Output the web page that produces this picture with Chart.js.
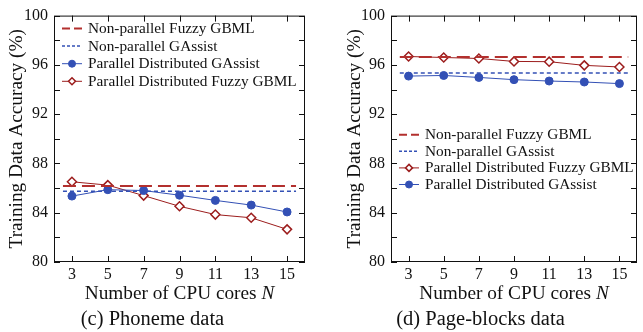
<!DOCTYPE html>
<html>
<head>
<meta charset="utf-8">
<script src="https://cdn.jsdelivr.net/npm/chart.js@4/dist/chart.umd.min.js"></script>
<style>
  html, body { margin: 0; padding: 0; background: #fff; }
  #wrap { position: relative; width: 643px; height: 332px; overflow: hidden; }
  canvas { position: absolute; top: 0; }
  #c1 { left: 0; }
  #c2 { left: 321px; }
</style>
</head>
<body>
<div id="wrap">
  <canvas id="c1" width="321" height="332"></canvas>
  <canvas id="c2" width="322" height="332"></canvas>
</div>
<script>
// ---- data ----
const xCores = [3, 5, 7, 9, 11, 13, 15];
const xTicks = [3, 5, 7, 9, 11, 13, 15];
const yTicks = [80, 84, 88, 92, 96, 100];
const yMinorTicks = [80, 82, 84, 86, 88, 90, 92, 94, 96, 98, 100];
const refSpan = [2.5, 15.5];

const phonemeGAssist = [85.35, 85.87, 85.80, 85.42, 85.00, 84.62, 84.06];
const phonemeFuzzy   = [86.51, 86.24, 85.39, 84.52, 83.85, 83.59, 82.65];
const phonemeNPFuzzy = 86.16;
const phonemeNPGAssist = 85.74;

const pageGAssist = [95.09, 95.14, 94.98, 94.80, 94.69, 94.61, 94.48];
const pageFuzzy   = [96.68, 96.60, 96.52, 96.28, 96.26, 95.96, 95.83];
const pageNPFuzzy = 96.63;
const pageNPGAssist = 95.35;

const labelNPFuzzy = 'Non-parallel Fuzzy GBML';
const labelNPGAssist = 'Non-parallel GAssist';
const labelPGAssist = 'Parallel Distributed GAssist';
const labelPFuzzy = 'Parallel Distributed Fuzzy GBML';
const xTitleMain = 'Number of CPU cores ';
const xTitleVar = 'N';
const yTitle = 'Training Data Accuracy (%)';

// ---- styles ----
const FONT = "'Liberation Serif', 'DejaVu Serif', serif";
const RED_DASH = '#b3302e';
const RED = '#9c1d1d';
const BLUE = '#3350b5';

function pts(xs, ys) { return xs.map((x, i) => ({ x: x, y: ys[i] })); }
function refLine(v) { return refSpan.map(x => ({ x: x, y: v })); }

function makeDatasets(npF, npG, pG, pF) {
  return {
    npFuzzy: { label: labelNPFuzzy, data: refLine(npF), borderColor: RED_DASH, borderWidth: 2, borderDash: [13, 6], pointRadius: 0, fill: false },
    npGAssist: { label: labelNPGAssist, data: refLine(npG), borderColor: BLUE, borderWidth: 1.5, borderDash: [4, 3], pointRadius: 0, fill: false },
    pGAssist: { label: labelPGAssist, data: pts(xCores, pG), borderColor: BLUE, backgroundColor: BLUE, borderWidth: 1, pointStyle: 'circle', pointRadius: 4, pointBorderWidth: 1, pointBackgroundColor: BLUE, pointBorderColor: BLUE, fill: false },
    pFuzzy: { label: labelPFuzzy, data: pts(xCores, pF), borderColor: RED, backgroundColor: '#fff', borderWidth: 1, pointStyle: 'rectRot', pointRadius: 4.5, pointBorderWidth: 1.5, pointBackgroundColor: '#fff', pointBorderColor: RED, fill: false }
  };
}

// frame + inward tick marks + x title with italic N
const framePlugin = {
  id: 'frame',
  afterDatasetsDraw(chart) {
    const { ctx, chartArea: a, scales } = chart;
    ctx.save();
    ctx.strokeStyle = '#111';
    ctx.lineWidth = 1;
    ctx.strokeRect(a.left + 0.5, a.top + 0.5, a.right - a.left - 1, a.bottom - a.top - 1);
    ctx.beginPath();
    const L = 6;
    xTicks.forEach(v => {
      const px = Math.round(scales.x.getPixelForValue(v)) + 0.5;
      ctx.moveTo(px, a.bottom); ctx.lineTo(px, a.bottom - L);
      ctx.moveTo(px, a.top); ctx.lineTo(px, a.top + L);
    });
    yMinorTicks.forEach(v => {
      const py = Math.round(scales.y.getPixelForValue(v)) + 0.5;
      ctx.moveTo(a.left, py); ctx.lineTo(a.left + L, py);
      ctx.moveTo(a.right, py); ctx.lineTo(a.right - L, py);
    });
    ctx.stroke();

    // x-axis title, "N" in italics
    const fMain = '19.3px ' + FONT, fVar = 'italic 19.3px ' + FONT;
    ctx.font = fMain; const w1 = ctx.measureText(xTitleMain).width;
    ctx.font = fVar;  const w2 = ctx.measureText(xTitleVar).width;
    const cx = (a.left + a.right) / 2;
    const ty = scales.x.bottom - 13.5;
    const x0 = cx - (w1 + w2) / 2;
    ctx.fillStyle = '#111';
    ctx.textBaseline = 'middle';
    ctx.textAlign = 'left';
    ctx.font = fMain; ctx.fillText(xTitleMain, x0, ty);
    ctx.font = fVar;  ctx.fillText(xTitleVar, x0 + w1, ty);
    ctx.restore();
  }
};

// in-plot legend
const legendPlugin = {
  id: 'inLegend',
  afterDraw(chart, args, opts) {
    const { ctx, chartArea: a } = chart;
    ctx.save();
    ctx.font = '15.3px ' + FONT;
    ctx.textBaseline = 'middle';
    ctx.textAlign = 'left';
    opts.order.forEach((idx, i) => {
      const ds = chart.data.datasets[idx];
      const y = opts.top + i * opts.step;
      const x0 = a.left + 8, x1 = a.left + 28;
      ctx.save();
      ctx.strokeStyle = ds.borderColor;
      ctx.lineWidth = ds.borderWidth;
      ctx.setLineDash(ds.pointRadius > 0 ? [] : (ds.borderWidth >= 2 ? [8, 4] : [3, 2]));
      ctx.beginPath(); ctx.moveTo(x0, y); ctx.lineTo(x1, y); ctx.stroke();
      ctx.setLineDash([]);
      if (ds.pointRadius > 0) {
        const cx = (x0 + x1) / 2, r = 3.5;
        ctx.lineWidth = ds.pointBorderWidth;
        ctx.strokeStyle = ds.pointBorderColor;
        ctx.fillStyle = ds.pointBackgroundColor;
        ctx.beginPath();
        if (ds.pointStyle === 'circle') {
          ctx.arc(cx, y, r, 0, Math.PI * 2);
        } else {
          ctx.moveTo(cx, y - r); ctx.lineTo(cx + r, y); ctx.lineTo(cx, y + r); ctx.lineTo(cx - r, y); ctx.closePath();
        }
        ctx.fill(); ctx.stroke();
      }
      ctx.restore();
      ctx.fillStyle = '#111';
      ctx.fillText(ds.label, a.left + 34, y + 0.5);
    });
    ctx.restore();
  }
};

function makeChart(id, cfg) {
  const d = cfg.datasets;
  return new Chart(document.getElementById(id), {
    type: 'line',
    data: { datasets: [d.npFuzzy, d.npGAssist, d.pGAssist, d.pFuzzy] },
    plugins: [framePlugin, legendPlugin],
    options: {
      responsive: false,
      animation: false,
      devicePixelRatio: 1,
      layout: { padding: { top: 11, right: cfg.padRight, bottom: 0, left: 0 } },
      elements: { line: { tension: 0 } },
      plugins: {
        legend: { display: false },
        tooltip: { enabled: false },
        title: {
          display: true, position: 'bottom', text: cfg.caption, color: '#111',
          font: { family: FONT, size: 20.5, weight: 'normal' }, padding: { top: 0, bottom: 0 }
        },
        inLegend: { order: cfg.legendOrder, top: cfg.legendTop, step: cfg.legendStep }
      },
      scales: {
        x: {
          type: 'linear', min: 2, max: 16,
          afterBuildTicks: s => { s.ticks = xTicks.map(v => ({ value: v })); },
          afterFit: s => { s.height = 45.4; },
          grid: { display: false, drawTicks: false },
          border: { display: false },
          ticks: { color: '#111', font: { family: FONT, size: 16 }, padding: 3.5, maxRotation: 0, autoSkip: false },
          title: { display: false }
        },
        y: {
          type: 'linear', min: 80, max: 100,
          afterBuildTicks: s => { s.ticks = yTicks.map(v => ({ value: v })); },
          afterFit: s => { s.width = cfg.yWidth; },
          grid: { display: false, drawTicks: false },
          border: { display: false },
          ticks: { color: '#111', font: { family: FONT, size: 16 }, padding: 6 },
          title: {
            display: true, text: yTitle, color: '#111',
            font: { family: FONT, size: 19.3 }, padding: { top: cfg.yTitlePad, bottom: 0 }
          }
        }
      }
    }
  });
}

makeChart('c1', {
  datasets: makeDatasets(phonemeNPFuzzy, phonemeNPGAssist, phonemeGAssist, phonemeFuzzy),
  caption: '(c) Phoneme data',
  padRight: 16, yWidth: 54, yTitlePad: 5.3,
  legendOrder: [0, 1, 2, 3], legendTop: 28.5, legendStep: 17.6
});

makeChart('c2', {
  datasets: makeDatasets(pageNPFuzzy, pageNPGAssist, pageGAssist, pageFuzzy),
  caption: '(d) Page-blocks data',
  padRight: 3, yWidth: 70, yTitlePad: 22.8,
  legendOrder: [0, 1, 3, 2], legendTop: 134.7, legendStep: 16.6
});
</script>
</body>
</html>
